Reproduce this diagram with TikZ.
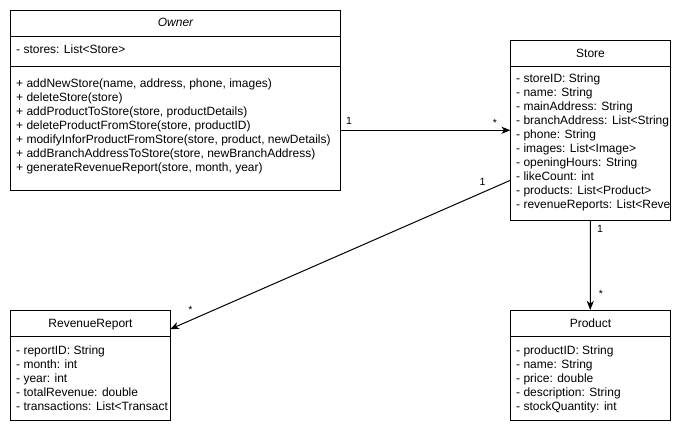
\documentclass[tikz,border=0pt]{standalone}
\usepackage{fontspec}
\setmainfont{Liberation Sans}
\usetikzlibrary{arrows.meta}
\begin{document}
\begin{tikzpicture}[x=1pt,y=-1pt,
  box/.style={draw=black, line width=1pt, inner sep=0pt, outer sep=0pt, anchor=north west, fill=white},
  sep/.style={draw=black, line width=1pt},
  txt/.style={anchor=base west, inner sep=0pt, font=\fontsize{12}{14}\selectfont, text=black},
  ttl/.style={anchor=base, inner sep=0pt, font=\fontsize{12}{14}\selectfont, text=black},
  mult/.style={anchor=base, inner sep=0pt, font=\fontsize{10.5}{12}\selectfont, text=black},
  assoc/.style={draw=black, line width=1pt, -{Stealth[length=9pt,width=7pt,inset=2.5pt]}}]
\useasboundingbox[fill=white] (0,0) rectangle (681,434);

% ---------- boxes ----------
\node[box, minimum width=330pt, minimum height=180pt] (owner) at (10.5,10) {};
\node[box, minimum width=160pt, minimum height=179.5pt] (store) at (510.5,40.5) {};
\node[box, minimum width=159.5pt, minimum height=109.5pt] (rev) at (10.5,310.5) {};
\node[box, minimum width=159.5pt, minimum height=110pt] (product) at (510.5,310) {};

% separators
\draw[sep] ([yshift=-26pt]owner.north west) -- ([yshift=-26pt]owner.north east);
\draw[sep] ([yshift=-56pt]owner.north west) -- ([yshift=-56pt]owner.north east);
\draw[sep] ([yshift=-26pt]store.north west) -- ([yshift=-26pt]store.north east);
\draw[sep] ([yshift=-25.5pt]rev.north west) -- ([yshift=-25.5pt]rev.north east);
\draw[sep] ([yshift=-26pt]product.north west) -- ([yshift=-26pt]product.north east);

% ---------- Owner ----------
\node[ttl, font=\fontsize{12}{14}\selectfont\itshape] (ownerT) at (175.5,26.5) {Owner};
\node[txt] (o0) at (16,53) {- stores: List<Store>};
\node[txt] (o1) at (16,87) {+ addNewStore(name, address, phone, images)};
\node[txt] (o2) at (16,101) {+ deleteStore(store)};
\node[txt] (o3) at (16,115) {+ addProductToStore(store, productDetails)};
\node[txt] (o4) at (16,129) {+ deleteProductFromStore(store, productID)};
\node[txt] (o5) at (16,143) {+ modifyInforProductFromStore(store, product, newDetails)};
\node[txt] (o6) at (16,157) {+ addBranchAddressToStore(store, newBranchAddress)};
\node[txt] (o7) at (16,171) {+ generateRevenueReport(store, month, year)};

% ---------- Store ----------
\node[ttl] (storeT) at (590.5,57.5) {Store};
\node[txt] (s1) at (516,82.5) {- storeID: String};
\node[txt] (s2) at (516,96.5) {- name: String};
\node[txt] (s3) at (516,110.5) {- mainAddress: String};
\node[txt] (s4) at (516,124.5) {- branchAddress: List<String};
\node[txt] (s5) at (516,138.5) {- phone: String};
\node[txt] (s6) at (516,152.5) {- images: List<Image>};
\node[txt] (s7) at (516,166.5) {- openingHours: String};
\node[txt] (s8) at (516,180.5) {- likeCount: int};
\node[txt] (s9) at (516,194.5) {- products: List<Product>};
\node[txt] (s10) at (516,208.5) {- revenueReports: List<Reve};

% ---------- RevenueReport ----------
\node[ttl] (revT) at (90.5,327.5) {RevenueReport};
\node[txt] (r1) at (16,354) {- reportID: String};
\node[txt] (r2) at (16,368) {- month: int};
\node[txt] (r3) at (16,382) {- year: int};
\node[txt] (r4) at (16,396) {- totalRevenue: double};
\node[txt] (r5) at (16,410) {- transactions: List<Transact};

% ---------- Product ----------
\node[ttl] (productT) at (590.5,327.5) {Product};
\node[txt] (p1) at (516,354) {- productID: String};
\node[txt] (p2) at (516,368) {- name: String};
\node[txt] (p3) at (516,382) {- price: double};
\node[txt] (p4) at (516,396) {- description: String};
\node[txt] (p5) at (516,410) {- stockQuantity: int};

% ---------- connectors ----------
\draw[assoc] (owner.east |- store.west) -- (store.west);
\draw[assoc] ([yshift=-50pt]store.west) -- ([yshift=36pt]rev.east);
\draw[assoc] (store.south) -- (product.north);

% multiplicities
\node[mult] (m1) at (349,124) {1};
\node[mult] (m2) at (495,126) {*};
\node[mult] (m3) at (482.5,185.5) {1};
\node[mult] (m4) at (190.5,313) {*};
\node[mult] (m5) at (600,232) {1};
\node[mult] (m6) at (601,297) {*};
\end{tikzpicture}
\end{document}
